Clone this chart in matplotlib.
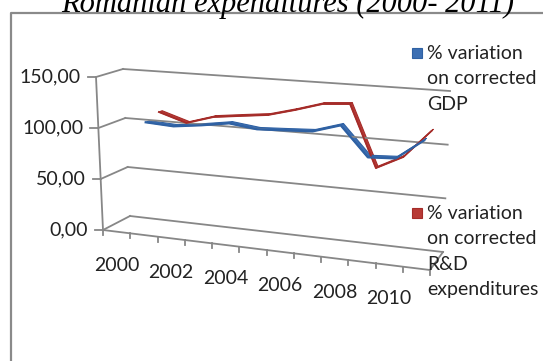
import numpy as np
import matplotlib.pyplot as plt
from matplotlib.patches import Polygon, Rectangle

# datos (2000 no tiene variacion, las series empiezan en 2001)
years = list(range(2000, 2012))
year_labels = ['2000', '2002', '2004', '2006', '2008', '2010']
gdp = [107.0, 105.4, 108.7, 112.8, 109.4, 110.6, 111.9, 119.6, 92.3, 93.6, 112.2]
rd = [111.9, 103.2, 111.3, 114.5, 117.5, 124.4, 132.1, 134.0, 75.8, 88.4, 114.7]
value_ticks = [0, 50, 100, 150]
value_labels = ['0,00', '50,00', '100,00', '150,00']
names = ['% variation\non corrected\nGDP',
         '% variation\non corrected\nR&D\nexpenditures']
title = 'Romanian expenditures (2000- 2011)'

ncat = len(years)
vmax = 150.

# esquinas de la caja 3D en pixeles [profundidad][categoria][valor]
corners = np.array([
    [[(103, 230), (96, 77)], [(430, 270), (437, 102)]],
    [[(130, 216), (123, 69)], [(443, 252), (450, 91)]],
], dtype=float)


def proj(u, v, d):
    s = np.asarray(u, float) / ncat
    t = np.asarray(v, float) / vmax
    d = np.asarray(d, float)
    x = 0.0
    y = 0.0
    for i, wd in ((0, 1 - d), (1, d)):
        for j, ws in ((0, 1 - s), (1, s)):
            for k, wt in ((0, 1 - t), (1, t)):
                w = wd * ws * wt
                x = x + w * corners[i, j, k, 0]
                y = y + w * corners[i, j, k, 1]
    return x, y


plt.rcParams['font.family'] = ['Lato', 'DejaVu Sans']
fig = plt.figure(figsize=(5.43, 3.61), dpi=100)
ax = fig.add_axes([0, 0, 1, 1])
ax.set_xlim(0, 543)
ax.set_ylim(361, 0)
ax.axis('off')

gc = '#878787'
lw = 1.3
tc = '#222222'

# marco del grafico
ax.plot([11, 11, 560], [380, 12.5, 12.5], color='#8a8a8a', lw=1.6)

# rejilla: pared izquierda y pared del fondo
for v in value_ticks:
    x, y = proj([0, 0], [v, v], [0, 1])
    ax.plot(x, y, color=gc, lw=lw)
    x, y = proj([0, ncat], [v, v], [1, 1])
    ax.plot(x, y, color=gc, lw=lw)

# eje vertical
x, y = proj([0, 0], [0, vmax], [0, 0])
ax.plot(x, y, color=gc, lw=lw)
for v, lab in zip(value_ticks, value_labels):
    x, y = proj(0, v, 0)
    ax.plot([x - 8, x], [y, y], color=gc, lw=lw)
    ax.text(x - 15, y, lab, ha='right', va='center', fontsize=14, color=tc)

# suelo: borde frontal y borde derecho
x, y = proj([0, ncat], [0, 0], [0, 0])
ax.plot(x, y, color=gc, lw=lw)
x, y = proj([ncat, ncat], [0, 0], [0, 1])
ax.plot(x, y, color=gc, lw=lw)
for i in range(ncat + 1):
    x, y = proj(i, 0, 0)
    ax.plot([x, x], [y, y + 5], color=gc, lw=lw)
for i, yr in enumerate(years):
    if str(yr) in year_labels:
        x, y = proj(i + 0.5, 0, 0)
        ax.text(x, y + 34, str(yr), ha='center', va='center', fontsize=14, color=tc)

# series como cintas
u = np.arange(1, ncat) + 0.5


def ribbon(vals, d0, d1, face, edge, lwl):
    for a in range(len(vals) - 1):
        x0, y0 = proj(u[a:a + 2], vals[a:a + 2], d0)
        x1, y1 = proj(u[a:a + 2], vals[a:a + 2], d1)
        pts = np.column_stack([np.r_[x0, x1[::-1]], np.r_[y0, y1[::-1]]])
        ax.add_patch(Polygon(pts, closed=True, fc=face, ec=edge, lw=0.8, joinstyle='round'))
    x, y = proj(u, vals, d0)
    ax.plot(x, y, color=edge, lw=lwl, solid_joinstyle='round')


ribbon(rd, 0.75, 0.88, '#B83A36', '#A52C29', 1.3)
ribbon(gdp, 0.22, 0.38, '#3C6FB3', '#2F61A3', 1.6)

# leyenda
ax.add_patch(Rectangle((412, 48), 10, 10, fc='#3C6FB3', ec='#2F61A3', lw=0.8))
ax.text(427, 45, names[0], ha='left', va='top', fontsize=14, linespacing=1.6, color=tc)
ax.add_patch(Rectangle((412, 208), 10, 10, fc='#B83A36', ec='#A52C29', lw=0.8))
ax.text(427, 205, names[1], ha='left', va='top', fontsize=14, linespacing=1.6, color=tc)

ax.text(288, 12, title, ha='center', va='baseline', fontsize=22, style='italic',
        family='Liberation Serif')

fig.savefig('out.png', dpi=100)
